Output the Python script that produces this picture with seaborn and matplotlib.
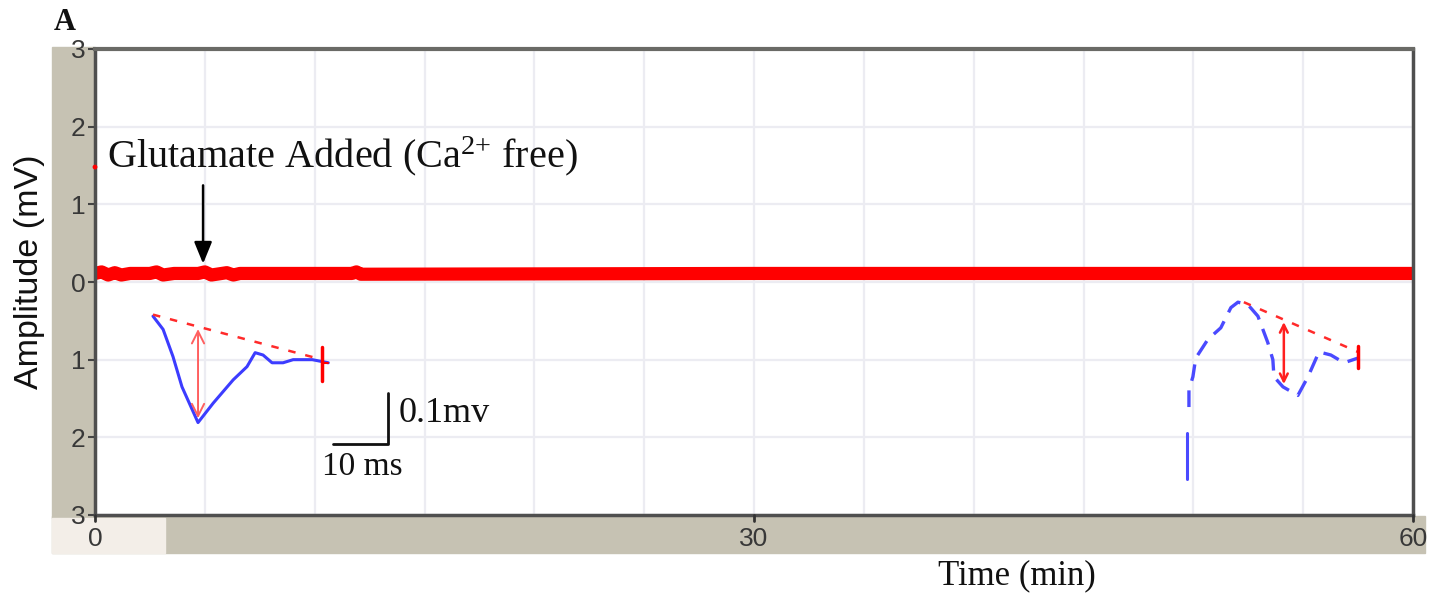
import numpy as np
import pandas as pd
import matplotlib
matplotlib.use("Agg")
import matplotlib.pyplot as plt
from matplotlib.patches import Rectangle
import seaborn as sns

# ---------------- data ----------------
y_ticks = [-3, -2, -1, 0, 1, 2, 3]
y_tick_labels = ["3", "2", "1", "0", "1", "2", "3"]
grid_x = [0, 5, 10, 15, 20, 25, 30, 35, 40, 45, 50, 55, 60]
x_tick_labels = ["0", "", "", "", "", "", "30", "", "", "", "", "", "60"]
label_ticks = [0, 30, 60]

# main recording trace (min, mV)
trace_t = [0.0, 0.3, 0.6, 0.9, 1.2, 1.6, 2.5, 2.8, 3.1, 3.6, 4.7, 5.0, 5.3, 6.0, 6.3, 6.6, 11.7, 11.9, 12.1, 30.0, 45.0, 60.0]
trace_v = [0.11, 0.13, 0.09, 0.12, 0.09, 0.11, 0.11, 0.13, 0.09, 0.11, 0.11, 0.13, 0.09, 0.12, 0.09, 0.11, 0.11, 0.13, 0.10, 0.11, 0.11, 0.11]
start_t = [0.0]
start_v = [1.48]

# left inset waveform (before glutamate)
left_t = [2.64, 3.10, 3.55, 3.96, 4.69, 5.38, 6.29, 6.92, 7.29, 7.65, 8.06, 8.56, 9.02, 9.89, 10.62]
left_v = [-0.44, -0.61, -0.96, -1.35, -1.81, -1.56, -1.26, -1.09, -0.91, -0.94, -1.04, -1.04, -1.00, -1.00, -1.04]
left_base_t = [2.64, 10.35]
left_base_v = [-0.42, -1.00]
left_arrow_t = 4.69
left_arrow_v = [-0.57, -1.79]
left_tick_t = 10.35
left_tick_v = [-0.84, -1.27]

# right inset waveform (after glutamate)
right_seg_t = [49.70, 49.70]
right_seg_v = [-1.94, -2.54]
right_t = [49.80, 49.80, 49.98, 50.11, 50.66, 51.25, 51.71, 52.03, 52.48, 52.94, 53.39, 53.62, 53.67, 54.08, 54.76, 55.22, 55.72, 56.26, 56.86, 57.49]
right_v = [-1.61, -1.39, -1.22, -0.98, -0.74, -0.59, -0.33, -0.26, -0.29, -0.44, -0.78, -1.00, -1.22, -1.35, -1.46, -1.22, -0.90, -0.94, -1.04, -0.98]
right_base_t = [52.30, 57.49]
right_base_v = [-0.26, -0.90]
right_arrow_t = 54.12
right_arrow_v = [-0.48, -1.35]
right_tick_t = 57.49
right_tick_v = [-0.83, -1.11]

# scale bar
scale_t = [10.84, 13.35, 13.35]
scale_v = [-2.08, -2.08, -1.43]

# glutamate arrow
glu_t = 4.92
glu_v = [1.28, 0.20]

# ---------------- style ----------------
sns.set_theme(style="white")
plt.rcParams["font.family"] = ["Liberation Sans", "DejaVu Sans"]
plt.rcParams["mathtext.fontset"] = "custom"
plt.rcParams["mathtext.rm"] = "Liberation Serif"
plt.rcParams["mathtext.it"] = "Liberation Serif:italic"

W, H = 1436, 599
fig = plt.figure(figsize=(W / 100, H / 100), dpi=100)

def fx(px):
    return px / W

def fy(py):
    return 1 - py / H

# background bands (screenshot frame)
band = "#c6c2b3"
fig.patches.append(Rectangle((fx(52), fy(518)), fx(95) - fx(52), fy(47) - fy(518),
                             transform=fig.transFigure, color=band, zorder=-5))
fig.patches.append(Rectangle((fx(52), fy(553)), fx(1425) - fx(52), fy(516) - fy(553),
                             transform=fig.transFigure, color=band, zorder=-5))
fig.patches.append(Rectangle((fx(52), fy(553)), fx(165) - fx(52), fy(518) - fy(553),
                             transform=fig.transFigure, color="#f3eee8", zorder=-4))

ax = fig.add_axes([fx(95), fy(515), fx(1413) - fx(95), fy(49) - fy(515)])
ax.set_zorder(1)
ax.set_facecolor("white")

ax.set_xlim(0, 60)
ax.set_ylim(-3, 3)

tick_font = dict(fontsize=19, color="#383838", family="Liberation Sans")
ax.set_xticks(grid_x)
ax.set_xticklabels(x_tick_labels, **tick_font)
ax.set_yticks(y_ticks)
ax.set_yticklabels(y_tick_labels, **tick_font)
ax.grid(True, which="major", color="#ececf2", lw=1.6)
ax.set_axisbelow(True)

# main trace
df_trace = pd.DataFrame({"t": trace_t, "v": trace_v})
sns.lineplot(data=df_trace, x="t", y="v", ax=ax, color="#ff0000", lw=9.5,
             estimator=None, sort=False, solid_capstyle="butt")
sns.scatterplot(x=start_t, y=start_v, ax=ax, color="#ff0000", s=12, edgecolor="none",
                clip_on=False, zorder=5)

# left inset
sns.lineplot(x=left_t, y=left_v, ax=ax, color="#3c3cff", lw=2.2, estimator=None, sort=False)
sns.lineplot(x=left_base_t, y=left_base_v, ax=ax, color="#ff2a2a", lw=1.8,
             estimator=None, sort=False, linestyle=(0, (3, 4)))
ax.annotate("", xy=(left_arrow_t, left_arrow_v[0]), xytext=(left_arrow_t, left_arrow_v[1]),
            arrowprops=dict(arrowstyle="<->", color="#ff6060", lw=1.4, mutation_scale=22))
ax.plot([left_tick_t, left_tick_t], left_tick_v, color="#ff0000", lw=2.5)
ax.plot([left_base_t[1], left_t[-1]], [left_v[-1], left_v[-1]], color="#ff0000", lw=1.5)

# right inset
sns.lineplot(x=right_seg_t, y=right_seg_v, ax=ax, color="#4a4aff", lw=2.2, estimator=None, sort=False)
sns.lineplot(x=right_t, y=right_v, ax=ax, color="#4a4aff", lw=2.4, estimator=None, sort=False,
             linestyle=(0, (5, 3)))
sns.lineplot(x=right_base_t, y=right_base_v, ax=ax, color="#ff2a2a", lw=1.8,
             estimator=None, sort=False, linestyle=(0, (3, 4)))
ax.annotate("", xy=(right_arrow_t, right_arrow_v[0]), xytext=(right_arrow_t, right_arrow_v[1]),
            arrowprops=dict(arrowstyle="<->", color="#ff2020", lw=1.8, mutation_scale=14))
ax.plot([right_tick_t, right_tick_t], right_tick_v, color="#ff0000", lw=2.5)

# scale bar
ax.plot(scale_t, scale_v, color="#111111", lw=2)
ax.text(13.8, -1.69, "0.1mv", fontsize=26, family="Liberation Serif", va="center", ha="left", color="#111111")
ax.text(10.32, -2.38, "10 ms", fontsize=24, family="Liberation Serif", va="center", ha="left", color="#111111")

# glutamate annotation
ax.annotate("", xy=(glu_t, glu_v[1]), xytext=(glu_t, glu_v[0]),
            arrowprops=dict(arrowstyle="-|>,head_width=0.45,head_length=1.1", color="black", lw=1.8))
ax.text(0.55, 1.62, r"Glutamate Added (Ca$^{\mathrm{2{+}}}$ free)", fontsize=29,
        family="Liberation Serif", va="center", ha="left", color="#111111")

# ticks
ax.tick_params(axis="y", which="major", length=5, width=1.5, color="#444444", pad=2,
               direction="out", left=True)
ax.tick_params(axis="x", which="major", length=0, pad=9, bottom=True)
for t in label_ticks:
    ax.plot([t, t], [0, -0.012], transform=ax.get_xaxis_transform(), color="#333333",
            lw=2, clip_on=False, zorder=6)

for side, sp in ax.spines.items():
    sp.set_visible(True)
    sp.set_color("#4f4f4f")
    sp.set_linewidth(2.5)
ax.spines["top"].set_color("#6a6a66")
ax.spines["top"].set_linewidth(3)

ax.set_xlabel("")
ax.set_ylabel("")

fig.text(fx(30), fy(272), "Amplitude (mV)", rotation=90, fontsize=24.5, va="center", ha="center",
         family="Liberation Sans", color="#111111")
fig.text(fx(1017), fy(576), "Time (min)", fontsize=25, va="center", ha="center",
         family="Liberation Serif", color="#111111")
fig.text(fx(54), fy(23), "A", fontsize=22, fontweight="bold", va="center", ha="left",
         family="Liberation Serif", color="#111111")

fig.savefig("out.png", dpi=100)
